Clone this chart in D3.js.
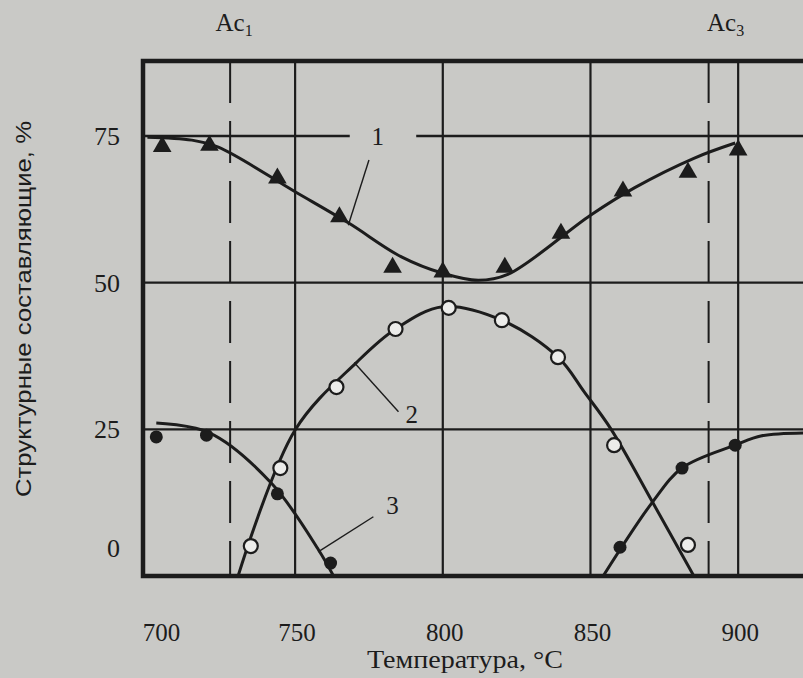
<!DOCTYPE html>
<html>
<head>
<meta charset="utf-8">
<script src="https://cdn.jsdelivr.net/npm/d3@7"></script>
<style>
  body { margin: 0; background: #c9c9c6; }
  svg { display: block; }
</style>
</head>
<body>
<div id="chart"></div>
<script>
// axis ticks
const xTicks = [700, 750, 800, 850, 900];
const yTicks = [0, 25, 50, 75];
const acTemps = [728, 890];
const acSubs = ["1", "3"];

// curve 1 (triangles)
const c1MarkT = [705, 721, 744, 765, 783, 800, 821, 840, 861, 883, 900];
const c1MarkV = [73.2, 73.4, 67.8, 61.2, 52.6, 51.8, 52.6, 58.4, 65.6, 68.8, 72.6];
const c1LineT = [700, 715, 724, 750, 768, 786, 800, 812, 822, 850, 865, 885, 899];
const c1LineV = [74.8, 74.3, 73.1, 65.5, 60.2, 54.4, 51.6, 50.4, 51.4, 61.5, 66.2, 71.2, 73.8];

// curve 2 (open circles)
const c2MarkT = [735, 745, 764, 784, 802, 820, 839, 858, 883];
const c2MarkV = [5.1, 18.4, 32.2, 42.1, 45.7, 43.6, 37.3, 22.3, 5.3];
const c2LineT = [730.7, 750, 771, 784, 800, 820, 839, 848, 857, 871, 885];
const c2LineV = [0, 24.9, 36.5, 42.1, 45.9, 43.6, 37.3, 31.3, 25, 12.6, 0];

// curve 3 (filled dots), two branches
const c3MarkT = [703, 720, 744, 762, 860, 881, 899];
const c3MarkV = [23.7, 24, 14, 2.2, 4.9, 18.4, 22.3];
const c3aLineT = [703, 721, 742, 758, 763];
const c3aLineV = [26.1, 24.4, 15.8, 4.4, 0];
const c3bLineT = [854.3, 871, 881, 899, 908, 925];
const c3bLineV = [0, 12.6, 18.4, 22.3, 23.9, 24.4];

// curve labels and leaders
const curveNames = ["1", "2", "3"];
const labelAt = [[778, 75], [789.5, 27.6], [783, 12]];
const leaderFrom = [[775, 70.9], [785, 28], [776.5, 10.1]];
const leaderTo = [[768, 59.8], [770, 36.4], [757.8, 4.1]];

const width = 803, height = 678;
const pLeft = 143, pTop = 61, pBottom = 576, pRight = 812;

const svg = d3.select("#chart").append("svg")
  .attr("width", width)
  .attr("height", height);

const x = d3.scaleLinear().domain([698.5, 925]).range([pLeft, pRight]);
const y = d3.scaleLinear().domain([0, 75]).range([pBottom, 136]);

const ink = "#1c1c1c";
const serif = "'Liberation Serif', 'DejaVu Serif', serif";

svg.append("clipPath").attr("id", "plot")
  .append("rect")
  .attr("x", pLeft).attr("y", pTop)
  .attr("width", pRight - pLeft).attr("height", pBottom - pTop);

const grid = svg.append("g").attr("stroke", ink);

// vertical grid at 750..900
grid.selectAll("line.v")
  .data(xTicks.slice(1))
  .join("line")
  .attr("x1", d => x(d)).attr("x2", d => x(d))
  .attr("y1", pTop).attr("y2", pBottom)
  .attr("stroke-width", 2.2);

// dashed Ac lines
grid.selectAll("line.ac")
  .data(acTemps)
  .join("line")
  .attr("x1", d => x(d)).attr("x2", d => x(d))
  .attr("y1", pTop).attr("y2", pBottom)
  .attr("stroke-width", 2)
  .attr("stroke-dasharray", "42,18");

// horizontal grid, the 75 line is broken around label 1
const gap = [768.5, 791];
yTicks.slice(1).forEach(v => {
  const segs = v === 75 ? [[698.5, gap[0]], [gap[1], 925]] : [[698.5, 925]];
  segs.forEach(s => {
    grid.append("line")
      .attr("x1", x(s[0])).attr("x2", x(s[1]))
      .attr("y1", y(v)).attr("y2", y(v))
      .attr("stroke-width", 2.4);
  });
});

// frame (left, top, bottom)
svg.append("path")
  .attr("d", `M${pRight},${pTop}H${pLeft}V${pBottom}H${pRight}`)
  .attr("fill", "none")
  .attr("stroke", ink)
  .attr("stroke-width", 4.5);

// curves
const line = d3.line()
  .x(d => x(d[0]))
  .y(d => y(d[1]))
  .curve(d3.curveCatmullRom.alpha(0.5));

const curves = [
  d3.zip(c1LineT, c1LineV),
  d3.zip(c2LineT, c2LineV),
  d3.zip(c3aLineT, c3aLineV),
  d3.zip(c3bLineT, c3bLineV)
];

svg.append("g")
  .attr("clip-path", "url(#plot)")
  .selectAll("path")
  .data(curves)
  .join("path")
  .attr("d", line)
  .attr("fill", "none")
  .attr("stroke", ink)
  .attr("stroke-width", 3);

// markers
const marks = svg.append("g");

marks.selectAll("path.tri")
  .data(d3.zip(c1MarkT, c1MarkV))
  .join("path")
  .attr("transform", d => `translate(${x(d[0])},${y(d[1])})`)
  .attr("d", d3.symbol(d3.symbolTriangle, 150))
  .attr("fill", ink);

marks.selectAll("circle.open")
  .data(d3.zip(c2MarkT, c2MarkV))
  .join("circle")
  .attr("cx", d => x(d[0]))
  .attr("cy", d => y(d[1]))
  .attr("r", 7)
  .attr("fill", "#ececea")
  .attr("stroke", ink)
  .attr("stroke-width", 2.2);

marks.selectAll("circle.dot")
  .data(d3.zip(c3MarkT, c3MarkV))
  .join("circle")
  .attr("cx", d => x(d[0]))
  .attr("cy", d => y(d[1]))
  .attr("r", 6.5)
  .attr("fill", ink);

// leaders and curve numbers
const ann = svg.append("g");
curveNames.forEach((name, i) => {
  ann.append("line")
    .attr("x1", x(leaderFrom[i][0])).attr("y1", y(leaderFrom[i][1]))
    .attr("x2", x(leaderTo[i][0])).attr("y2", y(leaderTo[i][1]))
    .attr("stroke", ink)
    .attr("stroke-width", 1.4);
  ann.append("text")
    .attr("x", x(labelAt[i][0]))
    .attr("y", y(labelAt[i][1]))
    .attr("dy", "0.35em")
    .attr("text-anchor", "middle")
    .attr("font-family", serif)
    .attr("font-size", 25)
    .attr("fill", ink)
    .text(name);
});

// x tick labels
svg.append("g")
  .selectAll("text")
  .data(xTicks)
  .join("text")
  .attr("x", d => x(d) + (d === 700 ? 14 : 2))
  .attr("y", 641)
  .attr("text-anchor", "middle")
  .attr("font-family", serif)
  .attr("font-size", 25)
  .attr("fill", ink)
  .text(d => d);

// y tick labels, the 0 sits a little above the frame
svg.append("g")
  .selectAll("text")
  .data(yTicks)
  .join("text")
  .attr("x", 120)
  .attr("y", d => d === 0 ? y(d) - 28 : y(d))
  .attr("dy", "0.35em")
  .attr("text-anchor", "end")
  .attr("font-family", serif)
  .attr("font-size", 26)
  .attr("fill", ink)
  .text(d => d);

// Ac labels
const acOffset = [4, 17];
acTemps.forEach((t, i) => {
  const tx = svg.append("text")
    .attr("x", x(t) + acOffset[i])
    .attr("y", 31)
    .attr("text-anchor", "middle")
    .attr("font-family", serif)
    .attr("font-size", 25)
    .attr("fill", ink);
  tx.append("tspan").text("Ac");
  tx.append("tspan").attr("font-size", 16).attr("dy", 5).text(acSubs[i]);
});

// axis titles
svg.append("text")
  .attr("x", 367)
  .attr("y", 668)
  .attr("font-family", serif)
  .attr("font-size", 26)
  .attr("textLength", 196)
  .attr("lengthAdjust", "spacingAndGlyphs")
  .attr("fill", ink)
  .text("Температура, °C");

svg.append("text")
  .attr("transform", "translate(31,309) rotate(-90)")
  .attr("x", -188)
  .attr("font-family", "'Liberation Sans', Arial, sans-serif")
  .attr("font-size", 22)
  .attr("textLength", 376)
  .attr("lengthAdjust", "spacingAndGlyphs")
  .attr("fill", ink)
  .text("Структурные составляющие, %");
</script>
</body>
</html>
